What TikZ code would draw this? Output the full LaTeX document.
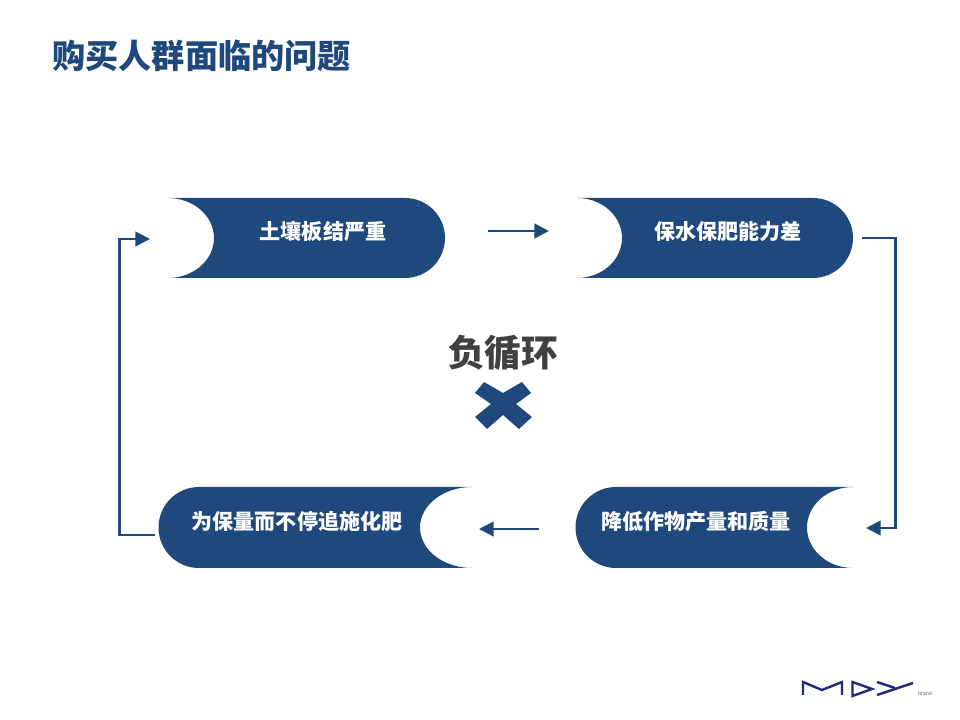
\documentclass[tikz,border=0pt]{standalone}
\usepackage{xcolor}
\usepackage{fontspec}
\newfontfamily\cjk{Noto Sans CJK SC}
\setmainfont{Liberation Sans}
\definecolor{Navy}{HTML}{1F497D}
\definecolor{LogoBlue}{HTML}{1C2A80}
\definecolor{Dark}{HTML}{404040}
\tikzset{
  boxlabel/.style={text=white, font=\cjk\bfseries\fontsize{15.8}{18}\selectfont, inner sep=0pt},
  flow/.style={draw=Navy, line width=1.8pt, -{Triangle[length=11pt,width=11pt]}},
  logoline/.style={draw=LogoBlue, line width=1.8pt}
}
\usetikzlibrary{arrows.meta}
\begin{document}
\begin{tikzpicture}[x=0.75pt,y=0.75pt]%
\useasboundingbox (0,0) rectangle (960,720);%
\fill[white] (0,0) rectangle (960,720);%
\node[text=Navy, anchor=west, inner sep=0pt, font=\cjk\bfseries\fontsize{24.9}{28}\selectfont] (title) at (52,664) {购买人群面临的问题};%
% pills
\fill[Navy] (168,522) -- (405,522) arc[start angle=90, end angle=-90, radius=40] -- (168,442) arc[start angle=-90, end angle=90, x radius=46, y radius=40] -- cycle;%
\fill[Navy] (577,522) -- (813,522) arc[start angle=90, end angle=-90, radius=40] -- (577,442) arc[start angle=-90, end angle=90, x radius=45, y radius=40] -- cycle;%
\fill[Navy] (853,233) -- (616,233) arc[start angle=90, end angle=270, radius=40.5] -- (853,152) arc[start angle=270, end angle=90, x radius=46, y radius=40.5] -- cycle;%
\fill[Navy] (472,233) -- (199,233) arc[start angle=90, end angle=270, radius=40.5] -- (472,152) arc[start angle=270, end angle=90, x radius=52, y radius=40.5] -- cycle;%
\node[boxlabel] (soil) at (323,488.5) {土壤板结严重};%
\node[boxlabel] (water) at (728,488.5) {保水保肥能力差};%
\node[boxlabel] (yield) at (696,198.5) {降低作物产量和质量};%
\node[boxlabel] (fert) at (297,198.5) {为保量而不停追施化肥};%
% connectors
\coordinate (soilout) at (488,489);%
\coordinate (waterin) at (549,489);%
\coordinate (waterout) at (862,482);%
\coordinate (yieldin) at (866,192);%
\coordinate (yieldout) at (539,191);%
\coordinate (fertin) at (479,191);%
\coordinate (fertout) at (155,185);%
\coordinate (soilin) at (150,481);%
\draw[flow] (soilout) -- (waterin);%
\draw[flow] (waterout) -- (895.5,482) -- (895.5,192) -- (yieldin);%
\draw[flow] (yieldout) -- (fertin);%
\draw[flow] (fertout) -- (119.5,185) -- (119.5,481) -- (soilin);%
% centre
\node[text=Dark, inner sep=0pt, font=\cjk\bfseries\fontsize{27.5}{32}\selectfont] (loop) at (503,367) {负循环};%
\fill[Navy] (484,338) -- (503,327) -- (522,338) -- (531,327) -- (516,316) -- (532,303) -- (519,291) -- (503,305) -- (487,291) -- (475,303) -- (491,316) -- (475,327) -- cycle;%
% logo
\draw[logoline] (803,25) -- (803,38) -- (822,30) -- (842,38) -- (842,25);%
\draw[logoline] (852.5,38) -- (852.5,24) -- (872,31) -- cycle;%
\draw[logoline] (877,38) -- (895,32);%
\draw[logoline] (877,25) -- (913,37);%
\node[text=gray!80!black, inner sep=0pt, font=\fontsize{4}{5}\selectfont] (brand) at (925,26) {brand};%
\end{tikzpicture}
\end{document}
